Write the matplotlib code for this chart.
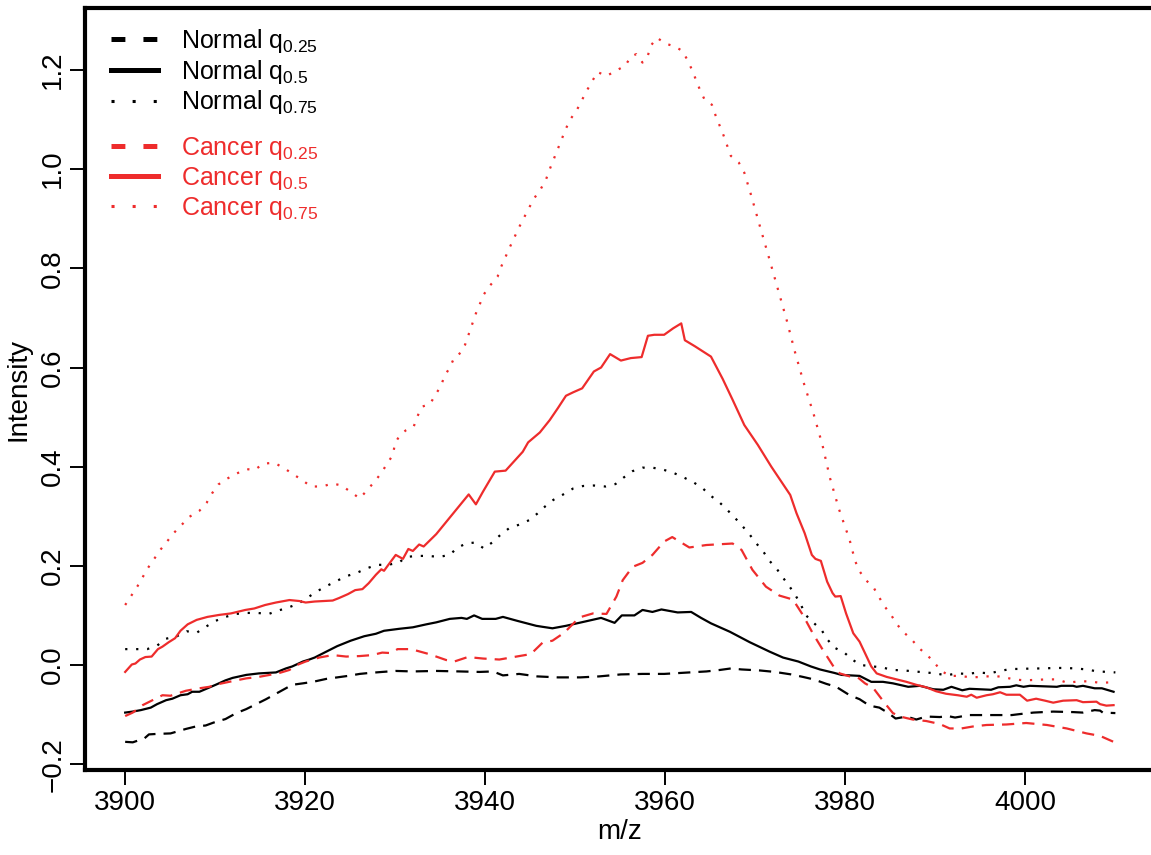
import matplotlib
matplotlib.use("Agg")
import matplotlib.pyplot as plt
from matplotlib.lines import Line2D

plt.rcParams["font.family"] = ["Liberation Sans", "DejaVu Sans"]
plt.rcParams["mathtext.default"] = "regular"
plt.rcParams["lines.scale_dashes"] = False  # dash patterns below are in points

RED = "#EE2C2C"

# ---- data (m/z, intensity) ----
normal_q25_mz = [3900.06, 3900.9, 3902.2, 3902.7, 3903.6, 3905.1, 3906.8, 3907.9, 3909.0, 3909.9,
                 3911.2, 3912.4, 3913.5, 3914.6, 3915.7, 3916.6, 3917.7, 3918.6, 3919.8, 3920.9,
                 3922.4, 3923.6, 3924.8, 3926.1, 3927.2, 3928.6, 3930.1, 3932.0, 3934.6, 3937.2,
                 3939.4, 3940.9, 3942.0, 3943.8, 3945.8, 3948.1, 3950.6, 3952.7, 3955.1, 3957.5,
                 3959.9, 3962.7, 3964.6, 3966.1, 3967.3, 3968.5, 3970.5, 3972.2, 3974.0, 3975.3,
                 3976.5, 3977.9, 3979.0, 3980.5, 3981.6, 3982.7, 3983.8, 3984.8, 3985.6, 3986.8,
                 3987.9, 3989.0, 3990.5, 3991.4, 3992.2, 3993.8, 3996.1, 3998.5, 3999.4, 4000.9,
                 4003.1, 4005.3, 4006.4, 4007.7, 4008.3, 4008.6, 4010.0]
normal_q25 = [-0.155, -0.156, -0.148, -0.140, -0.139, -0.138, -0.129, -0.124, -0.122, -0.116,
              -0.109, -0.097, -0.089, -0.079, -0.069, -0.060, -0.049, -0.040, -0.037, -0.034,
              -0.028, -0.025, -0.022, -0.018, -0.016, -0.014, -0.012, -0.013, -0.012, -0.013,
              -0.014, -0.013, -0.021, -0.018, -0.023, -0.025, -0.025, -0.023, -0.019, -0.018,
              -0.018, -0.015, -0.013, -0.010, -0.007, -0.009, -0.011, -0.014, -0.019, -0.024,
              -0.029, -0.038, -0.044, -0.061, -0.069, -0.082, -0.086, -0.097, -0.108, -0.104,
              -0.110, -0.104, -0.105, -0.103, -0.106, -0.101, -0.101, -0.101, -0.099, -0.096,
              -0.094, -0.095, -0.096, -0.091, -0.092, -0.096, -0.097]

normal_q50_mz = [3900.06, 3900.9, 3901.8, 3902.9, 3903.6, 3904.6, 3905.3, 3906.2, 3907.0, 3907.5,
                 3908.3, 3909.2, 3910.1, 3911.2, 3912.0, 3913.5, 3914.9, 3916.8, 3917.9, 3918.6,
                 3919.8, 3920.5, 3921.1, 3922.4, 3923.6, 3925.1, 3926.6, 3927.9, 3928.8, 3930.5,
                 3932.0, 3933.5, 3934.6, 3936.1, 3937.4, 3938.0, 3938.8, 3939.7, 3941.2, 3942.0,
                 3943.6, 3945.7, 3946.4, 3947.5, 3949.0, 3951.2, 3952.9, 3953.8, 3954.4, 3955.2,
                 3956.6, 3957.5, 3958.6, 3959.6, 3961.4, 3962.9, 3964.0, 3965.1, 3967.2, 3969.4,
                 3971.6, 3973.1, 3974.8, 3976.2, 3977.2, 3978.8, 3979.6, 3981.6, 3982.9, 3984.2,
                 3985.3, 3987.0, 3988.3, 3989.8, 3990.9, 3991.8, 3993.0, 3993.8, 3996.2, 3997.0,
                 3998.3, 3999.0, 3999.8, 4000.5, 4003.5, 4004.0, 4005.3, 4005.7, 4006.4, 4007.7,
                 4008.5, 4009.8]
normal_q50 = [-0.096, -0.094, -0.091, -0.086, -0.079, -0.071, -0.068, -0.061, -0.059, -0.054,
              -0.054, -0.047, -0.040, -0.031, -0.026, -0.020, -0.017, -0.015, -0.007, -0.003,
              0.007, 0.011, 0.015, 0.027, 0.038, 0.049, 0.058, 0.063, 0.069, 0.073,
              0.076, 0.082, 0.086, 0.093, 0.095, 0.093, 0.100, 0.093, 0.093, 0.097,
              0.089, 0.079, 0.077, 0.074, 0.079, 0.088, 0.095, 0.089, 0.085, 0.100,
              0.100, 0.111, 0.107, 0.112, 0.106, 0.107, 0.095, 0.084, 0.067, 0.046,
              0.027, 0.015, 0.007, -0.003, -0.009, -0.016, -0.020, -0.022, -0.034, -0.034,
              -0.037, -0.044, -0.042, -0.049, -0.050, -0.044, -0.051, -0.048, -0.050, -0.045,
              -0.044, -0.041, -0.044, -0.042, -0.044, -0.042, -0.042, -0.044, -0.042, -0.047,
              -0.047, -0.054]

normal_q75_mz = [3900.06, 3902.5, 3903.6, 3904.6, 3905.8, 3906.9, 3908.0, 3909.0, 3910.1, 3911.2,
                 3912.4, 3913.5, 3914.7, 3916.0, 3917.1, 3918.2, 3919.3, 3920.4, 3921.4, 3922.5,
                 3923.6, 3924.6, 3925.8, 3926.9, 3928.0, 3929.2, 3930.4, 3931.3, 3932.5, 3933.7,
                 3934.9, 3936.1, 3936.9, 3937.9, 3938.9, 3939.9, 3940.8, 3941.7, 3942.7, 3943.8,
                 3944.9, 3945.8, 3946.7, 3947.6, 3948.7, 3949.8, 3950.9, 3952.1, 3953.4, 3954.5,
                 3955.4, 3956.4, 3957.5, 3958.6, 3959.8, 3961.0, 3962.1, 3963.2, 3964.2, 3965.1,
                 3966.1, 3966.9, 3967.8, 3968.6, 3969.4, 3970.1, 3970.9, 3971.6, 3972.4, 3973.1,
                 3973.8, 3974.5, 3975.1, 3975.6, 3976.5, 3977.4, 3978.0, 3978.8, 3979.9, 3980.7,
                 3981.7, 3984.1, 3985.3, 3986.5, 3987.7, 3988.9, 3990.1, 3991.2, 3992.4, 3993.6,
                 3994.8, 3996.0, 3997.2, 3998.4, 3999.6, 4000.7, 4001.9, 4003.2, 4004.4, 4005.6,
                 4006.8, 4008.0, 4009.2, 4010.0]
normal_q75 = [0.032, 0.032, 0.039, 0.053, 0.058, 0.068, 0.065, 0.077, 0.089, 0.097,
              0.103, 0.105, 0.105, 0.103, 0.110, 0.116, 0.124, 0.137, 0.149, 0.160,
              0.170, 0.179, 0.186, 0.195, 0.202, 0.202, 0.206, 0.218, 0.220, 0.220,
              0.218, 0.222, 0.236, 0.245, 0.247, 0.235, 0.247, 0.262, 0.276, 0.283,
              0.292, 0.305, 0.320, 0.333, 0.344, 0.356, 0.361, 0.362, 0.360, 0.365,
              0.378, 0.391, 0.398, 0.398, 0.394, 0.387, 0.378, 0.368, 0.356, 0.341,
              0.327, 0.313, 0.296, 0.280, 0.263, 0.246, 0.229, 0.210, 0.194, 0.176,
              0.159, 0.140, 0.121, 0.101, 0.085, 0.070, 0.052, 0.035, 0.025, 0.012,
              0.000, -0.005, -0.010, -0.011, -0.013, -0.015, -0.017, -0.021, -0.017, -0.018,
              -0.015, -0.017, -0.012, -0.008, -0.008, -0.007, -0.007, -0.006, -0.006, -0.007,
              -0.009, -0.013, -0.014, -0.015]

cancer_q25_mz = [3900.06, 3900.9, 3902.0, 3903.1, 3904.2, 3905.1, 3906.8, 3908.3, 3909.4, 3910.3,
                 3911.6, 3913.5, 3914.9, 3916.1, 3917.2, 3918.3, 3919.0, 3920.1, 3921.6, 3923.1,
                 3924.6, 3926.1, 3927.5, 3928.6, 3929.6, 3930.3, 3931.8, 3933.8, 3935.7, 3936.6,
                 3938.1, 3939.8, 3941.6, 3943.5, 3945.1, 3946.4, 3947.5, 3948.8, 3950.5, 3952.0,
                 3953.5, 3954.6, 3955.3, 3956.4, 3957.5, 3958.6, 3959.9, 3960.8, 3962.7, 3964.6,
                 3967.5, 3968.5, 3969.7, 3971.2, 3972.7, 3974.2, 3975.3, 3976.4, 3977.5, 3978.7,
                 3979.4, 3980.5, 3981.4, 3982.2, 3983.1, 3984.4, 3985.3, 3986.1, 3987.5, 3989.0,
                 3990.5, 3991.6, 3992.9, 3994.2, 3995.7, 3997.9, 4000.1, 4002.4, 4004.6, 4006.8,
                 4008.3, 4009.8]
cancer_q25 = [-0.103, -0.096, -0.081, -0.071, -0.061, -0.062, -0.052, -0.047, -0.044, -0.039,
              -0.034, -0.027, -0.024, -0.020, -0.016, -0.010, -0.001, 0.007, 0.015, 0.020,
              0.017, 0.018, 0.020, 0.025, 0.024, 0.032, 0.032, 0.022, 0.010, 0.007,
              0.016, 0.013, 0.011, 0.017, 0.022, 0.045, 0.049, 0.065, 0.096, 0.104,
              0.103, 0.138, 0.171, 0.198, 0.206, 0.222, 0.249, 0.258, 0.237, 0.242,
              0.245, 0.232, 0.192, 0.158, 0.140, 0.132, 0.101, 0.064, 0.031, -0.003,
              -0.017, -0.023, -0.025, -0.037, -0.046, -0.077, -0.097, -0.104, -0.110, -0.113,
              -0.119, -0.128, -0.128, -0.124, -0.121, -0.120, -0.117, -0.121, -0.128, -0.138,
              -0.143, -0.155]

cancer_q50_mz = [3900.06, 3900.8, 3901.2, 3901.7, 3902.3, 3903.0, 3903.7, 3904.2, 3904.9, 3905.6,
                 3906.2, 3907.0, 3908.0, 3909.2, 3910.5, 3911.8, 3913.4, 3914.4, 3915.6, 3916.8,
                 3918.3, 3919.4, 3920.1, 3921.1, 3923.1, 3923.8, 3924.8, 3925.6, 3926.4, 3927.1,
                 3927.9, 3928.5, 3928.8, 3929.2, 3930.1, 3930.9, 3931.5, 3932.0, 3932.7, 3933.2,
                 3934.6, 3938.2, 3939.0, 3939.8, 3941.1, 3942.3, 3944.2, 3944.8, 3946.1, 3947.2,
                 3948.1, 3949.0, 3949.8, 3950.8, 3952.1, 3952.9, 3953.9, 3955.1, 3956.2, 3957.4,
                 3958.1, 3958.8, 3959.9, 3960.9, 3961.8, 3962.2, 3963.3, 3965.1, 3966.4, 3967.5,
                 3968.8, 3970.3, 3971.8, 3973.9, 3974.6, 3975.5, 3976.3, 3976.7, 3977.3, 3978.0,
                 3978.6, 3978.9, 3979.5, 3980.1, 3980.9, 3981.6, 3982.2, 3982.9, 3983.5, 3984.6,
                 3985.7, 3986.8, 3987.9, 3989.0, 3990.1, 3991.2, 3992.5, 3993.5, 3994.0, 3994.6,
                 3995.7, 3996.4, 3997.2, 3997.9, 3999.4, 4000.2, 4001.2, 4002.2, 4003.1, 4004.2,
                 4005.7, 4006.4, 4007.9, 4008.3, 4009.0, 4009.8]
cancer_q50 = [-0.014, 0.001, 0.003, 0.011, 0.016, 0.017, 0.032, 0.037, 0.046, 0.054,
              0.069, 0.082, 0.091, 0.097, 0.101, 0.104, 0.111, 0.114, 0.121, 0.126,
              0.131, 0.129, 0.126, 0.128, 0.130, 0.135, 0.143, 0.151, 0.153, 0.165,
              0.182, 0.193, 0.190, 0.200, 0.222, 0.214, 0.234, 0.230, 0.243, 0.239,
              0.264, 0.344, 0.324, 0.350, 0.390, 0.392, 0.430, 0.449, 0.469, 0.494,
              0.518, 0.543, 0.550, 0.558, 0.592, 0.600, 0.627, 0.614, 0.619, 0.621,
              0.664, 0.666, 0.666, 0.679, 0.689, 0.655, 0.643, 0.622, 0.577, 0.535,
              0.484, 0.444, 0.400, 0.343, 0.306, 0.266, 0.222, 0.214, 0.210, 0.168,
              0.145, 0.138, 0.139, 0.104, 0.064, 0.047, 0.024, -0.003, -0.017, -0.024,
              -0.029, -0.034, -0.040, -0.045, -0.053, -0.058, -0.061, -0.064, -0.060, -0.066,
              -0.061, -0.059, -0.055, -0.060, -0.060, -0.072, -0.068, -0.072, -0.076, -0.072,
              -0.071, -0.075, -0.074, -0.079, -0.082, -0.081]

cancer_q75_mz = [3900.06, 3901.4, 3902.6, 3904.0, 3905.5, 3907.2, 3908.3, 3909.1, 3909.7, 3910.4,
                 3911.4, 3912.4, 3913.6, 3914.4, 3915.4, 3916.6, 3917.7, 3918.7, 3919.7, 3920.7,
                 3921.9, 3923.1, 3924.1, 3925.1, 3926.1, 3926.9, 3927.7, 3928.5, 3929.1, 3929.8,
                 3930.0, 3930.5, 3931.2, 3932.1, 3932.5, 3933.0, 3933.9, 3934.5, 3935.1, 3935.5,
                 3936.1, 3936.6, 3937.4, 3937.8, 3938.2, 3939.0, 3939.9, 3940.6, 3941.4, 3941.8,
                 3942.8, 3943.8, 3944.9, 3945.5, 3946.2, 3946.8, 3947.2, 3948.1, 3949.0, 3949.5,
                 3950.2, 3951.3, 3952.5, 3953.5, 3954.6, 3955.6, 3956.2, 3956.8, 3957.5, 3958.1,
                 3958.5, 3959.1, 3960.1, 3961.0, 3961.9, 3962.5, 3963.0, 3963.9, 3964.4, 3965.2,
                 3965.6, 3966.5, 3967.3, 3968.2, 3968.8, 3969.5, 3970.5, 3971.5, 3972.5, 3973.5,
                 3974.4, 3975.4, 3976.5, 3977.5, 3978.3, 3979.3, 3980.5, 3981.1, 3981.6, 3982.3,
                 3983.1, 3983.7, 3984.3, 3985.1, 3985.7, 3986.5, 3987.4, 3988.2, 3989.1, 3989.9,
                 3990.6, 3991.6, 3992.8, 3993.9, 3995.2, 3996.4, 3997.5, 3998.7, 3999.9, 4001.1,
                 4002.4, 4003.5, 4004.7, 4005.9, 4007.1, 4008.3, 4009.5, 4010.0]
cancer_q75 = [0.121, 0.158, 0.196, 0.233, 0.267, 0.299, 0.311, 0.327, 0.346, 0.364,
              0.376, 0.386, 0.395, 0.393, 0.406, 0.408, 0.397, 0.385, 0.373, 0.360,
              0.360, 0.366, 0.362, 0.349, 0.336, 0.352, 0.369, 0.387, 0.405, 0.424,
              0.446, 0.462, 0.473, 0.481, 0.501, 0.521, 0.526, 0.545, 0.562, 0.582,
              0.600, 0.620, 0.631, 0.646, 0.667, 0.709, 0.748, 0.766, 0.783, 0.803,
              0.844, 0.883, 0.922, 0.942, 0.960, 0.980, 1.000, 1.041, 1.082, 1.101,
              1.119, 1.158, 1.196, 1.188, 1.199, 1.209, 1.227, 1.232, 1.215, 1.230,
              1.251, 1.265, 1.253, 1.248, 1.239, 1.220, 1.200, 1.159, 1.140, 1.130,
              1.109, 1.068, 1.027, 1.013, 0.993, 0.951, 0.887, 0.824, 0.760, 0.696,
              0.633, 0.569, 0.506, 0.442, 0.378, 0.315, 0.252, 0.210, 0.189, 0.171,
              0.158, 0.139, 0.120, 0.101, 0.083, 0.066, 0.051, 0.034, 0.020, 0.005,
              -0.011, -0.022, -0.022, -0.025, -0.024, -0.022, -0.024, -0.029, -0.031, -0.030,
              -0.029, -0.029, -0.036, -0.033, -0.033, -0.036, -0.035, -0.035]

x_ticks = [3900, 3920, 3940, 3960, 3980, 4000]
y_ticks = [-0.2, 0.0, 0.2, 0.4, 0.6, 0.8, 1.0, 1.2]

# ---- figure ----
fig = plt.figure(figsize=(11.51, 8.55), dpi=100)
ax = fig.add_axes([85 / 1151, 85 / 855, 1070 / 1151, 762 / 855])

LW = 1.6
DASH = (0, (8.8, 5.8))
DOT = (0, (1.6, 6.3))

ax.plot(normal_q25_mz, normal_q25, color="black", lw=LW, linestyle=DASH)
ax.plot(normal_q50_mz, normal_q50, color="black", lw=LW)
ax.plot(normal_q75_mz, normal_q75, color="black", lw=LW, linestyle=DOT)
ax.plot(cancer_q25_mz, cancer_q25, color=RED, lw=LW, linestyle=DASH)
ax.plot(cancer_q50_mz, cancer_q50, color=RED, lw=LW)
ax.plot(cancer_q75_mz, cancer_q75, color=RED, lw=LW, linestyle=DOT)

ax.set_xlim(3895.6, 4014.4)
ax.set_ylim(-0.2118, 1.3251)
ax.set_xticks(x_ticks)
ax.set_yticks(y_ticks)
for s in ax.spines.values():
    s.set_linewidth(3)
ax.tick_params(direction="out", length=10.5, width=1.4, labelsize=20, pad=4)
ax.tick_params(axis="y", pad=3)
plt.setp(ax.get_yticklabels(), rotation=90, va="center")
ax.set_xlabel("m/z", fontsize=20, labelpad=2)
ax.set_ylabel("Intensity", fontsize=20, labelpad=6)


def leg_handles(color):
    return [Line2D([], [], color=color, lw=3.6, linestyle=(0, (10, 13))),
            Line2D([], [], color=color, lw=3.6),
            Line2D([], [], color=color, lw=2.2, linestyle=(0, (2.2, 13)))]


leg_kw = dict(loc="upper left", frameon=False, fontsize=18, handlelength=1.88,
              handletextpad=0.92, labelspacing=0.11, borderpad=0, borderaxespad=0,
              labelcolor="linecolor", bbox_transform=fig.transFigure)
leg1 = ax.legend(handles=leg_handles("black"),
                 labels=["Normal q$_{0.25}$", "Normal q$_{0.5}$", "Normal q$_{0.75}$"],
                 bbox_to_anchor=(111 / 1151, 1 - 27 / 855), **leg_kw)
ax.add_artist(leg1)
ax.legend(handles=leg_handles(RED),
          labels=["Cancer q$_{0.25}$", "Cancer q$_{0.5}$", "Cancer q$_{0.75}$"],
          bbox_to_anchor=(111 / 1151, 1 - 135 / 855), **leg_kw)

fig.savefig("out.png", dpi=100)
